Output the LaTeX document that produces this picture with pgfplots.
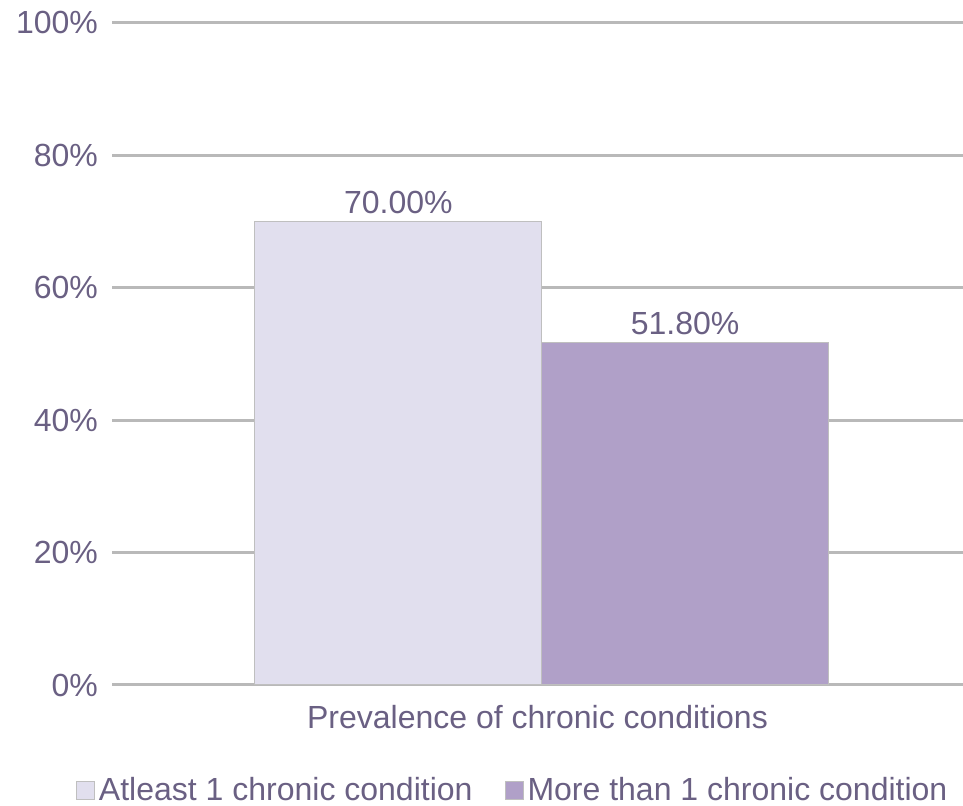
\documentclass[border=0pt]{standalone}
\usepackage{pgfplots}
\pgfplotsset{compat=1.18}
\usepackage{fontspec}
\setmainfont{Liberation Sans}
\definecolor{txt}{HTML}{6A6083}
\definecolor{gridc}{HTML}{B9B9B9}
\definecolor{edge}{HTML}{BFBFBF}
\definecolor{barA}{HTML}{E1DFEE}
\definecolor{barB}{HTML}{B0A0C8}
\newcommand{\lbl}{\fontsize{16}{19}\selectfont}
\begin{document}
\begin{tikzpicture}
\useasboundingbox (0,0) rectangle (481.5pt,403pt);
\begin{axis}[
  at={(56pt,60.5pt)}, anchor=south west,
  scale only axis, width=425.5pt, height=331pt,
  ybar=0pt, bar width=0.674,
  xmin=-1.01, xmax=0.99, ymin=0, ymax=100,
  ytick={0,20,...,100},
  yticklabel={\pgfmathprintnumber{\tick}\%},
  xtick=\empty,
  major tick length=0pt,
  axis line style={draw=none},
  ymajorgrids,
  grid style={gridc, line width=1.5pt},
  /pgf/number format/assume math mode=true,
  tick label style={text=txt, font=\lbl},
  yticklabel style={xshift=-3.5pt},
  xlabel={Prevalence of chronic conditions},
  x label style={at={(axis description cs:0.5,-0.048)}, anchor=center, text=txt, font=\lbl},
  nodes near coords={\pgfmathprintnumber[fixed,fixed zerofill,precision=2]{\pgfplotspointmeta}\%},
  every node near coord/.append style={anchor=south, inner sep=0pt, yshift=3.5pt, text=txt, font=\lbl},
  legend columns=2,
  legend style={at={(0.472,-0.159)}, anchor=center, draw=none, fill=none,
    font=\lbl, text=txt, inner sep=0pt,
    /tikz/every even column/.append style={column sep=14pt}},
  legend image code/.code={\draw[#1, draw=edge, line width=0.5pt] (0pt,-4.5pt) rectangle (9pt,4.5pt);},
]
\addplot[fill=barA, draw=edge, line width=0.5pt] coordinates {(0,70)};
\addplot[fill=barB, draw=edge, line width=0.5pt] coordinates {(0,51.8)};
\legend{Atleast 1 chronic condition, More than 1 chronic condition}
\end{axis}
\end{tikzpicture}
\end{document}
